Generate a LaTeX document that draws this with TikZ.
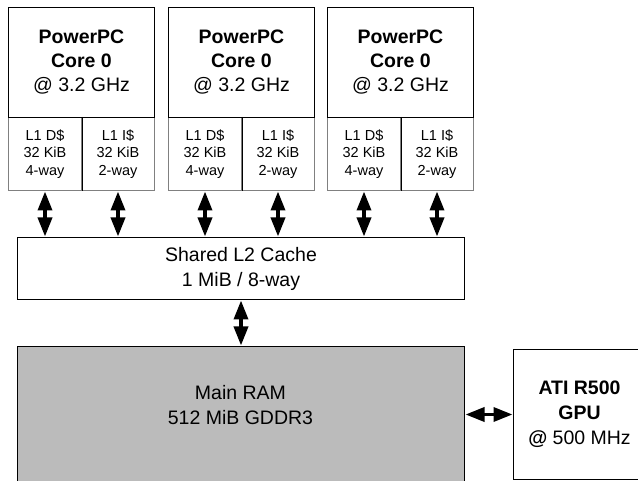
\documentclass[tikz,border=0pt]{standalone}
\usepackage{fontspec}
\setmainfont{Liberation Sans}
\usetikzlibrary{arrows.meta}
\definecolor{ramgray}{HTML}{BBBBBB}
\definecolor{lgray}{HTML}{808080}
\tikzset{
  corebox/.style={draw=black, line width=1pt, minimum width=146pt, minimum height=110pt, inner sep=0pt, anchor=north west, align=center, font=\fontsize{19.5}{24}\selectfont},
  lbox/.style={draw=lgray, line width=1pt, minimum width=73pt, minimum height=73pt, inner sep=0pt, anchor=north west, align=center, font=\fontsize{14.5}{17.5}\selectfont},
  bigbox/.style={draw=black, line width=1pt, inner sep=0pt, anchor=north west, align=center, font=\fontsize{19.5}{25}\selectfont},
  biarrow/.style={line width=3.5pt, {Triangle[length=19pt,width=14pt]}-{Triangle[length=19pt,width=14pt]}, shorten <=0.5pt, shorten >=0.5pt},
  plain/.style={inner sep=0pt, align=center, font=\fontsize{19.5}{25}\selectfont}
}
\begin{document}
\begin{tikzpicture}[x=1pt,y=-1pt]
\useasboundingbox[fill=white] (0,0) rectangle (638,481);
% cores
\foreach \i/\x in {1/8,2/168,3/327}{
  \node[lbox] (d\i) at (\x,117) {L1 D\$\\32 KiB\\4-way};
  \node[lbox] (i\i) at (\x+73,117) {L1 I\$\\32 KiB\\2-way};
  \draw[black, line width=1pt] (d\i.north east) -- (d\i.south east);
  \node[corebox] (c\i) at (\x,7) {\textbf{PowerPC}\\\textbf{Core 0}\\@ 3.2 GHz};
}
% L2
\node[bigbox, minimum width=447pt, minimum height=62pt] (l2) at (17,237) {Shared L2 Cache\\1 MiB / 8-way};
% RAM
\node[bigbox, fill=ramgray, minimum width=447pt, minimum height=180pt] (ram) at (17,346) {};
\node[plain] (ramtext) at (240.5,405) {Main RAM\\512 MiB GDDR3};
% GPU
\node[bigbox, minimum width=132pt, minimum height=130pt] (gpu) at (513,349) {\textbf{ATI R500}\\\textbf{GPU}\\\textbf{@} 500 MHz};
% arrows
\foreach \i in {1,2,3}{
  \draw[biarrow] (d\i.south) -- (d\i.south |- l2.north);
  \draw[biarrow] (i\i.south) -- (i\i.south |- l2.north);
}
\draw[biarrow] (ram.north -| 241,0) coordinate (ramtop) -- (ramtop |- l2.south);
\draw[biarrow] (gpu.west -| ram.east) -- (gpu.west);
\end{tikzpicture}
\end{document}
